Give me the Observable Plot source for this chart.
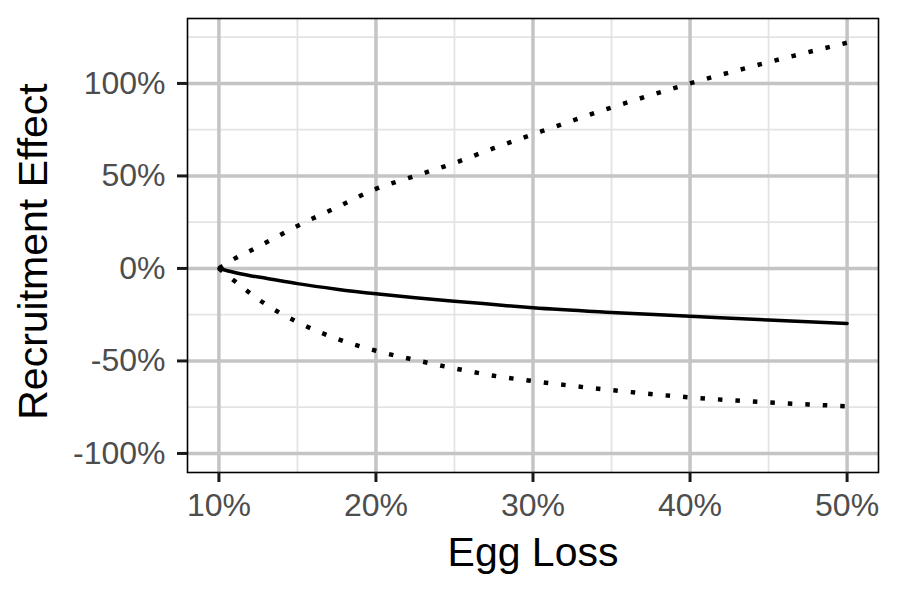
<!DOCTYPE html>
<html>
<head>
<meta charset="utf-8">
<script src="https://cdn.jsdelivr.net/npm/d3@7"></script>
<script src="https://cdn.jsdelivr.net/npm/@observablehq/plot@0.6"></script>
<style>
  html, body { margin: 0; padding: 0; background: #fff; }
  #chart svg { display: block; }
</style>
</head>
<body>
<div id="chart"></div>
<script>
// Data (percent)
const eggLoss = [10, 11, 12, 13, 15, 17.5, 20, 22.5, 25, 27.5, 30, 35, 40, 45, 50];
const effectUpper = [0, 5.3, 9.6, 14, 23, 33, 43, 50, 57, 65, 72.5, 87, 100, 111.5, 122];
const effectMid = [0, -2.2, -3.9, -5.3, -8.2, -11.2, -13.7, -15.8, -17.7, -19.5, -21.3, -23.8, -25.8, -27.9, -29.7];
const effectLower = [0, -6.8, -13.5, -19.5, -29, -38, -44.5, -49.5, -54, -58, -60.9, -65.8, -69.7, -72.4, -74.5];

const xMajor = [10, 20, 30, 40, 50];
const xMinor = [15, 25, 35, 45];
const yMajor = [-100, -50, 0, 50, 100];
const yMinor = [-75, -25, 25, 75, 125];

const xTitle = "Egg Loss";
const yTitle = "Recruitment Effect";

const upper = eggLoss.map((x, i) => ({x, y: effectUpper[i]}));
const mid = eggLoss.map((x, i) => ({x, y: effectMid[i]}));
const lower = eggLoss.map((x, i) => ({x, y: effectLower[i]}));

const pct = d => d + "%";

const chart = Plot.plot({
  width: 899,
  height: 599,
  marginLeft: 187,
  marginRight: 21,
  marginTop: 18,
  marginBottom: 127,
  style: {fontFamily: "'Liberation Sans', Arial, sans-serif", background: "#fff"},
  x: {domain: [8, 52]},
  y: {domain: [-110.3, 135.1]},
  marks: [
    Plot.ruleX(xMinor, {stroke: "#e3e3e3", strokeWidth: 1.8}),
    Plot.ruleY(yMinor, {stroke: "#e3e3e3", strokeWidth: 1.8}),
    Plot.ruleX(xMajor, {stroke: "#c4c4c4", strokeWidth: 3.5}),
    Plot.ruleY(yMajor, {stroke: "#c4c4c4", strokeWidth: 3.5}),
    Plot.line(upper, {x: "x", y: "y", curve: "monotone-x", stroke: "black", strokeWidth: 4.5, strokeDasharray: "4.5,13", strokeLinecap: "butt"}),
    Plot.line(lower, {x: "x", y: "y", curve: "monotone-x", stroke: "black", strokeWidth: 4.5, strokeDasharray: "4.5,13", strokeLinecap: "butt"}),
    Plot.line(mid, {x: "x", y: "y", curve: "monotone-x", stroke: "black", strokeWidth: 3.5}),
    Plot.frame({stroke: "black", strokeWidth: 1.6}),
    // tick marks
    Plot.axisX({ticks: xMajor, tickFormat: () => "", tickSize: 10, color: "#1a1a1a", strokeWidth: 3, label: null}),
    Plot.axisY({ticks: yMajor, tickFormat: () => "", tickSize: 10, color: "#1a1a1a", strokeWidth: 3, label: null}),
    // tick labels
    Plot.axisX({ticks: xMajor, tickFormat: pct, tickSize: 0, tickPadding: 21, color: "#4d4d4d", fontSize: 32, label: null}),
    Plot.axisY({ticks: yMajor, tickFormat: pct, tickSize: 0, tickPadding: 22, color: "#4d4d4d", fontSize: 32, label: null}),
    Plot.text([xTitle], {frameAnchor: "bottom", dy: 93, fontSize: 41, fill: "black", textAnchor: "middle"}),
    Plot.text([yTitle], {frameAnchor: "left", dx: -154, dy: 6, rotate: -90, fontSize: 41, fill: "black", textAnchor: "middle"})
  ]
});
document.getElementById("chart").appendChild(chart);
</script>
</body>
</html>
